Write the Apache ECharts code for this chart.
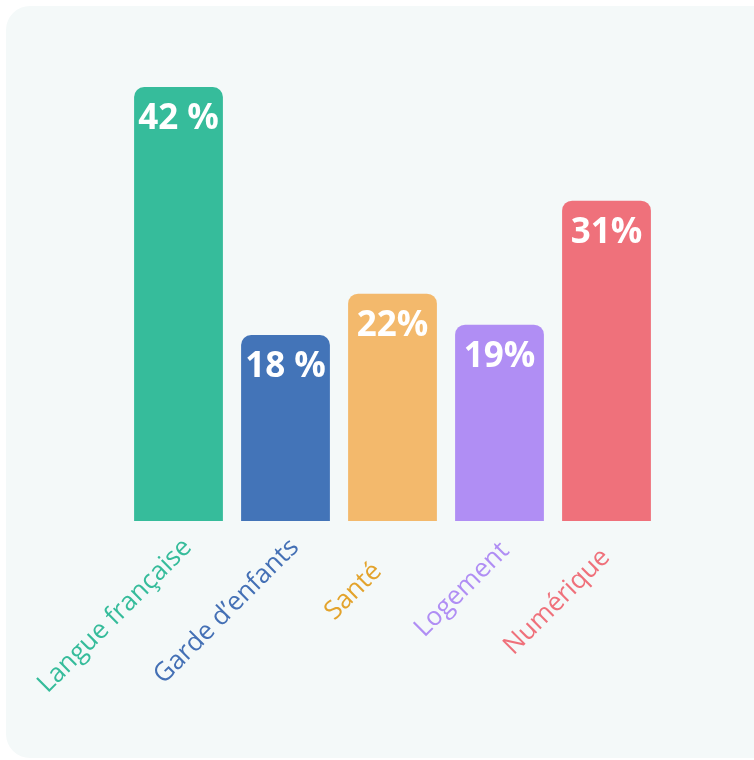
<!DOCTYPE html>
<html>
<head>
<meta charset="utf-8">
<script src="https://cdn.jsdelivr.net/npm/echarts@6/dist/echarts.min.js"></script>
<style>
html,body{margin:0;padding:0;background:#ffffff;}
#chart{width:754px;height:760px;}
</style>
</head>
<body>
<div id="chart"></div>
<script>
const categories = ['Langue française', "Garde d’enfants", 'Santé', 'Logement', 'Numérique'];
const values = [42, 18, 22, 19, 31];
const valueLabels = ['42 %', '18 %', '22%', '19%', '31%'];
const barColors = ['#36bc9b', '#4374b8', '#f3b96c', '#b08ef4', '#ef717b'];
const labelColors = ['#36bc9b', '#4470b5', '#e3a32c', '#b08ef4', '#ef717b'];

const labelTweaks = [
  {},
  {},
  { padding: [0, 34, 0, 0] },
  { padding: [0, 5, 0, 0] },
  { padding: [0, 14, 0, 0] }
];

const chart = echarts.init(document.getElementById('chart'));
const font = '"Open Sans", "Noto Sans", sans-serif';
chart.setOption({
  backgroundColor: 'transparent',
  animation: false,
  graphic: [{
    type: 'rect', z: -10, silent: true,
    shape: { x: 6, y: 6, width: 780, height: 752, r: 24 },
    style: { fill: '#f4f9f9' }
  }],
  grid: { left: 125, right: 94, top: 87, bottom: 239, containLabel: false },
  xAxis: {
    type: 'category',
    data: categories.map((c, i) => ({
      value: c,
      textStyle: Object.assign({ color: labelColors[i], align: 'right', verticalAlign: 'top', fontSize: 26, fontFamily: font }, labelTweaks[i])
    })),
    axisLine: { show: false },
    axisTick: { show: false },
    axisLabel: { rotate: 45, fontSize: 26, fontFamily: font, margin: 13, interval: 0 }
  },
  yAxis: { type: 'value', min: 0, max: 42, show: false, splitLine: { show: false } },
  series: [{
    type: 'bar',
    barCategoryGap: '17%',
    data: values.map((v, i) => ({ value: v, itemStyle: { color: barColors[i] } })),
    itemStyle: { borderRadius: [10, 10, 0, 0] },
    label: {
      show: true, position: 'insideTop', distance: 15,
      color: '#ffffff', fontWeight: 'bold', fontSize: 35, fontFamily: font,
      formatter: p => valueLabels[p.dataIndex]
    }
  }]
});
</script>
</body>
</html>
